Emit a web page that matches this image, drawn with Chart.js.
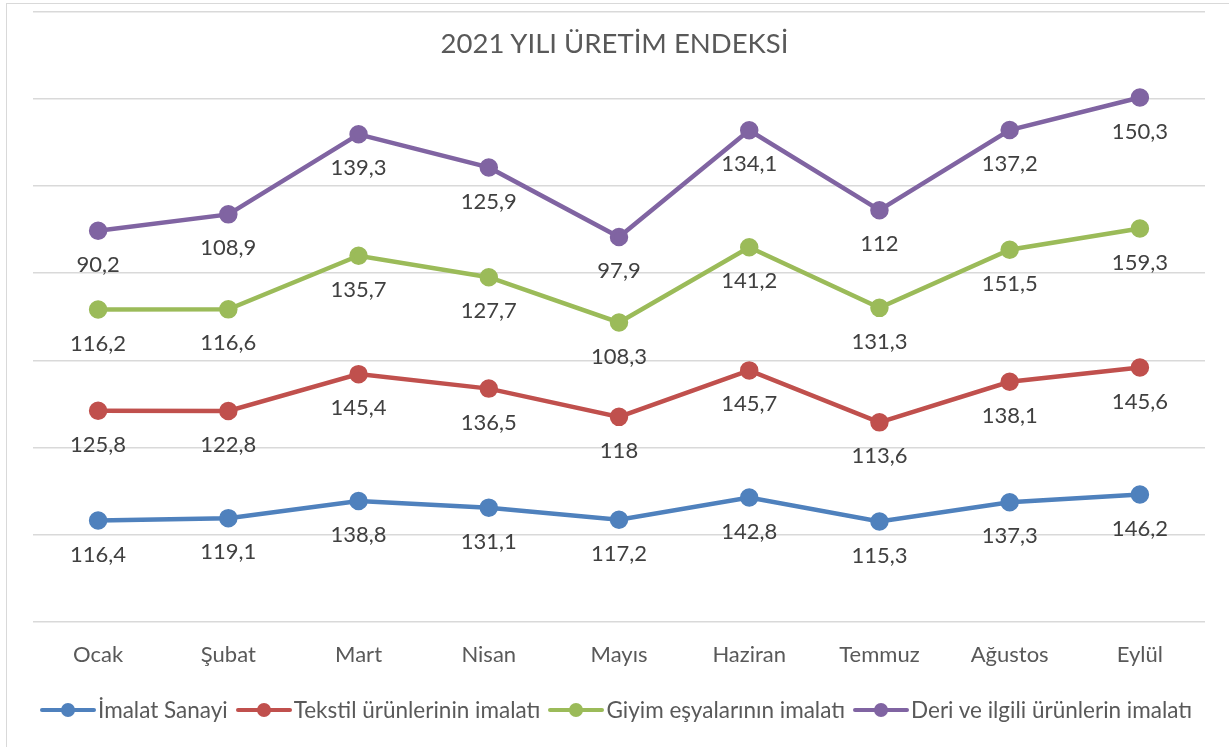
<!DOCTYPE html>
<html>
<head>
<meta charset="utf-8">
<script src="https://cdn.jsdelivr.net/npm/chart.js@4.4.1/dist/chart.umd.min.js"></script>
<style>
  html, body { margin: 0; padding: 0; background: #fff; }
  #wrap { position: relative; width: 1229px; height: 747px; overflow: hidden; font-family: Lato, "Open Sans", sans-serif; }
  #frame { position: absolute; left: 6px; top: 3px; width: 1240px; height: 760px; border: 1px solid #d9d9d9; box-sizing: border-box; pointer-events: none; }
  #title { position: absolute; left: 0; top: 26px; width: 1229px; text-align: center; font-size: 27.5px; color: #595959; }
  #legend { position: absolute; left: 40px; top: 696px; display: flex; align-items: center; font-size: 22.5px; color: #595959; white-space: nowrap; }
  .item { display: flex; align-items: center; margin-right: 8px; }
  .mk { position: relative; width: 56px; height: 16px; margin-right: 2px; }
  .mk .ln { position: absolute; left: 0; right: 0; top: 6px; height: 4px; border-radius: 2px; }
  .mk .dt { position: absolute; left: 21px; top: 1px; width: 14px; height: 14px; border-radius: 50%; }
  canvas { position: absolute; left: 0; top: 0; }
</style>
</head>
<body>
<div id="wrap">
  <canvas id="c" width="1229" height="747"></canvas>
  <div id="frame"></div>
  <div id="title">2021 YILI ÜRETİM ENDEKSİ</div>
  <div id="legend"></div>
</div>
<script>
const categories = ["Ocak", "Şubat", "Mart", "Nisan", "Mayıs", "Haziran", "Temmuz", "Ağustos", "Eylül"];
const seriesNames = ["İmalat Sanayi", "Tekstil ürünlerinin imalatı", "Giyim eşyalarının imalatı", "Deri ve ilgili ürünlerin imalatı"];
const imalat  = [116.4, 119.1, 138.8, 131.1, 117.2, 142.8, 115.3, 137.3, 146.2];
const tekstil = [125.8, 122.8, 145.4, 136.5, 118, 145.7, 113.6, 138.1, 145.6];
const giyim   = [116.2, 116.6, 135.7, 127.7, 108.3, 141.2, 131.3, 151.5, 159.3];
const deri    = [90.2, 108.9, 139.3, 125.9, 97.9, 134.1, 112, 137.2, 150.3];
const colors  = ["#4F81BD", "#C0504D", "#9BBB59", "#8064A2"];
const seriesData = [imalat, tekstil, giyim, deri];
const FONT = 'Lato, "Open Sans", sans-serif';

const datasets = seriesData.map((d, i) => ({
  label: seriesNames[i],
  data: d,
  borderColor: colors[i],
  backgroundColor: colors[i],
  pointBackgroundColor: colors[i],
  pointBorderColor: colors[i],
  borderWidth: 4.5,
  pointRadius: 7,
  pointHoverRadius: 7,
  tension: 0,
  fill: false
}));

const labelPlugin = {
  id: 'valueLabels',
  afterDatasetsDraw(chart) {
    const ctx = chart.ctx;
    ctx.save();
    ctx.font = '22px ' + FONT;
    ctx.fillStyle = '#404040';
    ctx.textAlign = 'center';
    ctx.textBaseline = 'middle';
    chart.data.datasets.forEach((ds, di) => {
      const meta = chart.getDatasetMeta(di);
      meta.data.forEach((pt, i) => {
        const txt = String(ds.data[i]).replace('.', ',');
        ctx.fillText(txt, pt.x, pt.y + 34);
      });
    });
    ctx.restore();
  }
};

new Chart(document.getElementById('c'), {
  type: 'line',
  data: { labels: categories, datasets },
  options: {
    responsive: false,
    devicePixelRatio: 1,
    animation: false,
    layout: { padding: { left: 33, right: 24, top: 10, bottom: 80 } },
    plugins: {
      legend: { display: false },
      title: { display: false },
      tooltip: { enabled: false }
    },
    scales: {
      x: {
        offset: true,
        grid: { display: false, drawTicks: false, offset: true },
        border: { display: false },
        ticks: { color: '#595959', font: { family: FONT, size: 22 }, padding: 20, maxRotation: 0, autoSkip: false },
        afterFit(scale) { scale.height = 45; }
      },
      y: {
        stacked: true,
        min: 0,
        max: 700,
        ticks: { display: false, stepSize: 100 },
        grid: { color: '#d9d9d9', lineWidth: 1.5, drawTicks: false },
        border: { display: false },
        afterFit(scale) { scale.width = 0; }
      }
    }
  },
  plugins: [labelPlugin]
});

const lg = document.getElementById('legend');
seriesNames.forEach((n, i) => {
  const it = document.createElement('div');
  it.className = 'item';
  it.innerHTML = '<div class="mk"><div class="ln" style="background:' + colors[i] + '"></div><div class="dt" style="background:' + colors[i] + '"></div></div><span>' + n + '</span>';
  lg.appendChild(it);
});
</script>
</body>
</html>
